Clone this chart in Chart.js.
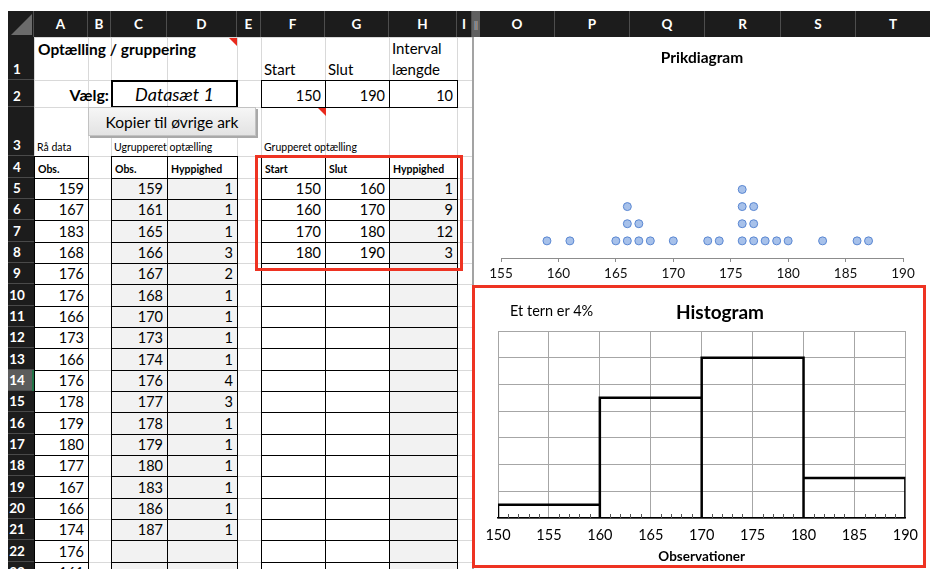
<!DOCTYPE html>
<html>
<head>
<meta charset="utf-8">
<script src="https://cdn.jsdelivr.net/npm/chart.js@4.4.1/dist/chart.umd.min.js"></script>
<style>
body { margin: 0; width: 930px; height: 569px; overflow: hidden; background: #fff; position: relative; font-family: Lato, "Open Sans", sans-serif; }
.a { position: absolute; box-sizing: border-box; }
.cell { display: flex; align-items: flex-end; padding: 0 4px 2px 4px; font-size: 14.5px; color: #000; white-space: nowrap; overflow: hidden; }
.hdr { background: #1c1c1c; color: #fff; font-weight: bold; font-size: 13.5px; display: flex; align-items: center; justify-content: center; }
.rowno { color: #fff; font-weight: bold; font-size: 13.5px; display: flex; align-items: flex-end; justify-content: center; padding-bottom: 3px; }
.tri { width: 0; height: 0; border-top: 8px solid #e8291c; border-left: 8px solid transparent; }
</style>
</head>
<body>
<div id="sheet"></div>
<div class="a" style="left:475px;top:37px;width:455px;height:248px;background:#fff"><canvas id="dotChart"></canvas></div>
<div class="a" style="left:475px;top:288px;width:452px;height:277px;background:#fff"><canvas id="histChart"></canvas></div>
<div class="a" style="left:510px;top:302px;font-size:14.5px;color:#000">Et tern er 4%</div>
<div class="a" style="left:640px;top:301px;width:160px;height:22px;line-height:22px;text-align:center;font-size:19px;font-weight:bold;color:#000">Histogram</div>
<div class="a" style="left:472px;top:285px;width:454px;height:283px;border:3px solid #ee3322"></div>
<script>
// Raw data column A
const rawObs = [159, 167, 183, 168, 176, 176, 166, 173, 166, 176, 178, 179, 180, 177, 167, 166, 174, 176, 161];

// Ungrouped count (columns C-D)
const obsValues = [159, 161, 165, 166, 167, 168, 170, 173, 174, 176, 177, 178, 179, 180, 183, 186, 187];
const obsCounts = [1, 1, 1, 3, 2, 1, 1, 1, 1, 4, 3, 1, 1, 1, 1, 1, 1];

// Grouped count (columns F-H)
const binStart = [150, 160, 170, 180];
const binEnd = [160, 170, 180, 190];
const binFreq = [1, 9, 12, 3];

// Settings row 2
const rangeStart = 150;
const rangeEnd = 190;
const intervalLength = 10;

// Axis settings
const dotAxisMin = 155, dotAxisMax = 190, dotStep = 5;
const squareWidth = 5;     // one square is 5 units wide
const squarePct = 4;       // and worth 4%
const histMaxPct = 28;

// ---------- spreadsheet ----------
const sheet = document.getElementById('sheet');
const COLS = ['A', 'B', 'C', 'D', 'E', 'F', 'G', 'H', 'I'];
const colEdge = [34, 88, 111, 167, 237, 261, 325, 389, 457, 472];
const rowEdge = [37, 80, 107, 156];
for (let k = 5; k <= 24; k++) rowEdge.push(Math.round(177.7 + (k - 5) * 21.33));

function div(x, y, w, h, cls, css, html) {
    const d = document.createElement('div');
    d.className = 'a ' + (cls || '');
    d.style.cssText = `left:${x}px;top:${y}px;width:${w}px;height:${h}px;` + (css || '');
    if (html !== undefined) d.innerHTML = html;
    sheet.appendChild(d);
    return d;
}

function cell(c1, c2, r, text, css, border) {
    const x = colEdge[COLS.indexOf(c1)];
    const x2 = colEdge[COLS.indexOf(c2) + 1];
    const y = rowEdge[r - 1];
    const y2 = rowEdge[r];
    let extra = css || '';
    if (border) extra += `border:${border};`;
    const w = x2 - x + (border ? 1 : 0);
    const h = y2 - y + (border ? 1 : 0);
    return div(x, y, w, h, 'cell', extra, text === undefined ? '' : String(text));
}

// gridlines
colEdge.forEach(x => div(x, 37, 1, 532, '', 'background:#d9d9d9'));
rowEdge.forEach(y => div(34, y, 438, 1, '', 'background:#d9d9d9'));

// header row
div(8, 11, 922, 26, '', 'background:#1c1c1c');
div(8, 11, 26, 26, '', 'background:#1c1c1c;border-right:1px solid #4d4d4d');
div(11, 14, 21, 21, '', 'background:#6b6b6b;clip-path:polygon(100% 0,100% 100%,0 100%)');
COLS.forEach((c, i) => {
    div(colEdge[i], 11, colEdge[i + 1] - colEdge[i], 26, 'hdr', 'border-right:1px solid #4d4d4d', c);
});
div(472, 11, 8, 26, '', 'background:#606060;color:#bbb;font-size:10px;text-align:center;line-height:26px', '&#8214;');
const rightCols = ['O', 'P', 'Q', 'R', 'S', 'T'];
const rightEdge = [480, 555, 630, 705, 781, 856, 931];
rightCols.forEach((c, i) => {
    div(rightEdge[i], 11, rightEdge[i + 1] - rightEdge[i], 26, 'hdr', 'border-right:1px solid #4d4d4d', c);
});

// row numbers
for (let r = 1; r <= 23; r++) {
    const y = rowEdge[r - 1], h = rowEdge[r] - y;
    const sel = r === 14;
    div(8, y, 26, h, '', `background:${sel ? '#5c5c5c' : '#1c1c1c'};border-bottom:1px solid #4a4a4a`);
    if (sel) div(32, y, 2, h, '', 'background:#217346');
    div(0, y, 34, h, 'rowno', '', r);
}

// split bar
div(472, 37, 2, 532, '', 'background:#a3a3a3');

// row 1
cell('A', 'D', 1, 'Optælling / gruppering', 'align-items:flex-start;padding-top:3px;font-weight:bold;font-size:15.5px;');
div(229, 38, 8, 8, 'tri');
cell('F', 'F', 1, 'Start', 'font-size:15px;padding-left:3px;');
cell('G', 'G', 1, 'Slut', 'font-size:15px;padding-left:3px;');
cell('H', 'H', 1, 'Interval<br>længde', 'font-size:15px;white-space:normal;line-height:21px;padding-bottom:0;padding-left:3px;');

// row 2
cell('A', 'B', 2, 'Vælg:', 'justify-content:flex-end;font-weight:bold;font-size:16px;padding-right:2px;padding-bottom:3px;');
cell('C', 'D', 2, '<i>Datasæt 1</i>', 'justify-content:center;align-items:center;font-size:18px;padding:0;', '2px solid #000');
cell('F', 'F', 2, rangeStart, 'justify-content:flex-end;padding-bottom:3px;', '1px solid #000');
cell('G', 'G', 2, rangeEnd, 'justify-content:flex-end;padding-bottom:3px;', '1px solid #000');
cell('H', 'H', 2, intervalLength, 'justify-content:flex-end;padding-bottom:3px;', '1px solid #000');
div(318, 108, 8, 8, 'tri');

// row 3
const small = 'font-size:10.5px;padding-left:3px;padding-bottom:3px;';
cell('A', 'A', 3, 'Rå data', small);
cell('C', 'D', 3, 'Ugrupperet optælling', small);
cell('F', 'H', 3, 'Grupperet optælling', small);

// row 4 headers
const head = 'font-size:10.5px;font-weight:bold;padding-left:3px;padding-bottom:3px;background:#fff;';
cell('A', 'A', 4, 'Obs.', head, '1px solid #000');
cell('C', 'C', 4, 'Obs.', head, '1px solid #000');
cell('D', 'D', 4, 'Hyppighed', head, '1px solid #000');
cell('F', 'F', 4, 'Start', head, '1px solid #000');
cell('G', 'G', 4, 'Slut', head, '1px solid #000');
cell('H', 'H', 4, 'Hyppighed', head, '1px solid #000');

// data rows
const num = 'justify-content:flex-end;background:#fff;';
const numGrey = 'justify-content:flex-end;background:#f2f2f2;';
for (let r = 5; r <= 23; r++) {
    const i = r - 5;
    cell('A', 'A', r, rawObs[i] !== undefined ? rawObs[i] : '', num, '1px solid #000');
    cell('C', 'C', r, obsValues[i] !== undefined ? obsValues[i] : '', numGrey, '1px solid #000');
    cell('D', 'D', r, obsCounts[i] !== undefined ? obsCounts[i] : '', numGrey, '1px solid #000');
    cell('F', 'F', r, binStart[i] !== undefined ? binStart[i] : '', num, '1px solid #000');
    cell('G', 'G', r, binEnd[i] !== undefined ? binEnd[i] : '', num, '1px solid #000');
    cell('H', 'H', r, binFreq[i] !== undefined ? binFreq[i] : '', numGrey, '1px solid #000');
}

// button
div(88, 107, 168, 29, '', 'background:linear-gradient(#f6f6f6,#e3e3e3);border:1px solid #c2c2c2;box-shadow:2px 2px 0 #a9a9a9;font-size:15.5px;display:flex;align-items:center;justify-content:center;color:#000', 'Kopier til øvrige ark');

// red frame around grouped table
div(255, 155, 208, 116, '', 'border:3px solid #ee3322');

// ---------- charts ----------
Chart.defaults.font.family = 'Lato, "Open Sans", sans-serif';
Chart.defaults.color = '#000';

// dot plot: stack each observation value
const dotPoints = [];
obsValues.forEach((v, i) => {
    for (let k = 1; k <= obsCounts[i]; k++) dotPoints.push({ x: v, y: k });
});

new Chart(document.getElementById('dotChart'), {
    type: 'scatter',
    data: {
        datasets: [{
            data: dotPoints,
            pointRadius: 4,
            pointBackgroundColor: '#a7c1ea',
            pointBorderColor: '#5a87d2',
            pointBorderWidth: 1
        }]
    },
    options: {
        responsive: true,
        maintainAspectRatio: false,
        animation: false,
        layout: { padding: { left: 26, right: 27, top: 0, bottom: 0 } },
        plugins: {
            legend: { display: false },
            tooltip: { enabled: false },
            title: {
                display: true,
                text: 'Prikdiagram',
                font: { size: 15.5, weight: 'bold' },
                color: '#000',
                padding: { top: 12, bottom: 19 }
            }
        },
        scales: {
            x: {
                type: 'linear',
                min: dotAxisMin,
                max: dotAxisMax,
                afterFit: s => { s.height = 27; },
                ticks: { stepSize: dotStep, color: '#111', font: { size: 13.5 }, padding: 4 },
                grid: { drawOnChartArea: false, tickLength: 4, color: '#8c8c8c' },
                border: { color: '#8c8c8c', width: 1 }
            },
            y: { display: false, min: 0, max: 10 }
        }
    }
});

// histogram: heights so that one square (5 wide) holds 4 %
const totalObs = binFreq.reduce((a, b) => a + b, 0);
const histPoints = [];
binStart.forEach((s, i) => {
    const e = binEnd[i];
    const pct = binFreq[i] / totalObs * 100;
    const h = pct * squareWidth / (e - s);
    histPoints.push({ x: s, y: 0 }, { x: s, y: h }, { x: e, y: h }, { x: e, y: 0 }, { x: e, y: null });
});

const minorTicks = {
    id: 'minorTicks',
    afterDraw(chart) {
        const xs = chart.scales.x;
        const ctx = chart.ctx;
        const bottom = chart.chartArea.bottom;
        ctx.save();
        ctx.strokeStyle = '#555';
        ctx.lineWidth = 1;
        for (let v = xs.min + 1; v < xs.max; v++) {
            if (v % squareWidth === 0) continue;
            const px = Math.round(xs.getPixelForValue(v)) + 0.5;
            ctx.beginPath();
            ctx.moveTo(px, bottom);
            ctx.lineTo(px, bottom - 4);
            ctx.stroke();
        }
        ctx.restore();
    }
};

new Chart(document.getElementById('histChart'), {
    type: 'line',
    data: {
        datasets: [{
            data: histPoints,
            borderColor: '#000',
            borderWidth: 2.5,
            pointRadius: 0,
            fill: false,
            tension: 0,
            spanGaps: false
        }]
    },
    options: {
        responsive: true,
        maintainAspectRatio: false,
        animation: false,
        layout: { padding: { left: 23, right: 10, top: 43, bottom: 0 } },
        plugins: {
            legend: { display: false },
            tooltip: { enabled: false },
            title: { display: false }
        },
        scales: {
            x: {
                type: 'linear',
                min: rangeStart,
                max: rangeEnd,
                afterFit: s => { s.height = 47; },
                ticks: { stepSize: squareWidth, color: '#000', font: { size: 14.5 }, padding: 9 },
                grid: { color: '#a6a6a6', drawTicks: false },
                border: { color: '#000', width: 1.5 },
                title: {
                    display: true,
                    text: 'Observationer',
                    font: { size: 13.5, weight: 'bold' },
                    color: '#000',
                    padding: 0
                }
            },
            y: {
                min: 0,
                max: histMaxPct,
                ticks: { stepSize: squarePct, display: false },
                grid: { color: '#a6a6a6', drawTicks: false },
                border: { display: false }
            }
        }
    },
    plugins: [minorTicks]
});
</script>
</body>
</html>
